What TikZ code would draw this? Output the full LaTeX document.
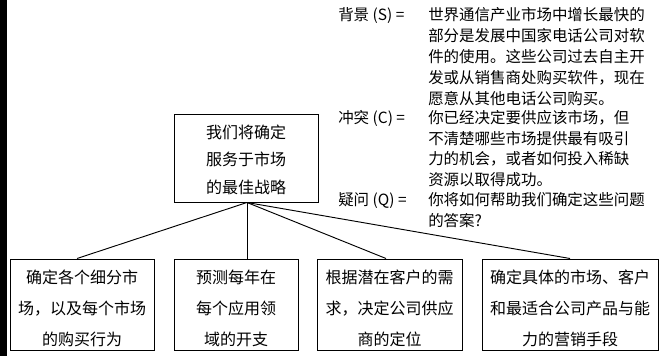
\documentclass[tikz,border=0pt]{standalone}
\usepackage{fontspec}
\setmainfont{Noto Sans CJK SC}
\usetikzlibrary{calc}
\newcommand{\firstup}{\rule{0pt}{15.5pt}}
\begin{document}
\begin{tikzpicture}[x=0.75pt,y=-0.75pt,
  box/.style={draw, line width=0.75pt, inner sep=0pt, align=center},
  boxfont/.style={font=\fontsize{12}{23.2}\selectfont},
  txt/.style={anchor=north west, inner sep=0pt, align=left, font=\fontsize{11.6}{15.6}\selectfont},
  link/.style={line width=0.7pt}]
\useasboundingbox (0,0) rectangle (666,356);
\fill[black] (0,0) rectangle (7,356);

% right-hand text
\node[txt] (lS) at (338,7.5) {背景 (S) =};
\node[txt] (tS) at (428,7.5) {世界通信产业市场中增长最快的\\部分是发展中国家电话公司对软\\件的使用。这些公司过去自主开\\发或从销售商处购买软件，现在\\愿意从其他电话公司购买。};
\node[txt] (lC) at (338,110) {冲突 (C) =};
\node[txt] (tC) at (428,110) {你已经决定要供应该市场，但\\不清楚哪些市场提供最有吸引\\力的机会，或者如何投入稀缺\\资源以取得成功。};
\node[txt] (lQ) at (338,192) {疑问 (Q) =};
\node[txt] (tQ) at (428,192) {你将如何帮助我们确定这些问题\\的答案?};

% boxes
\node[box, font=\fontsize{12}{20.7}\selectfont, minimum width=108pt, minimum height=65.25pt] (top) at (246,158.5) {\rule{0pt}{12pt}{}我们将确定\\服务于市场\\的最佳战略};
\node[box, boxfont, minimum width=108pt, minimum height=68.25pt] (b1) at (82,304.5) {\firstup{}确定各个细分市\\场，以及每个市场\\的购买行为};
\node[box, boxfont, minimum width=93pt, minimum height=68.25pt] (b2) at (236,304.5) {\firstup{}预测每年在\\每个应用领\\域的开支};
\node[box, boxfont, minimum width=108.75pt, minimum height=68.25pt] (b3) at (389.5,304.5) {\firstup{}根据潜在客户的需\\求，决定公司供应\\商的定位};
\node[box, boxfont, minimum width=132pt, minimum height=68.25pt] (b4) at (570,304.5) {\firstup{}确定具体的市场、客户\\和最适合公司产品与能\\力的营销手段};

% connectors
\coordinate (apex) at ($(top.south)+(1,0)$);
\draw[link] (apex) -- ($(b1.north)+(-5,0)$);
\draw[link] (apex) -- (apex |- b2.north);
\draw[link] (apex) -- ($(b3.north)+(-3.5,0)$);
\draw[link] (apex) -- (b4.north);
\end{tikzpicture}
\end{document}
